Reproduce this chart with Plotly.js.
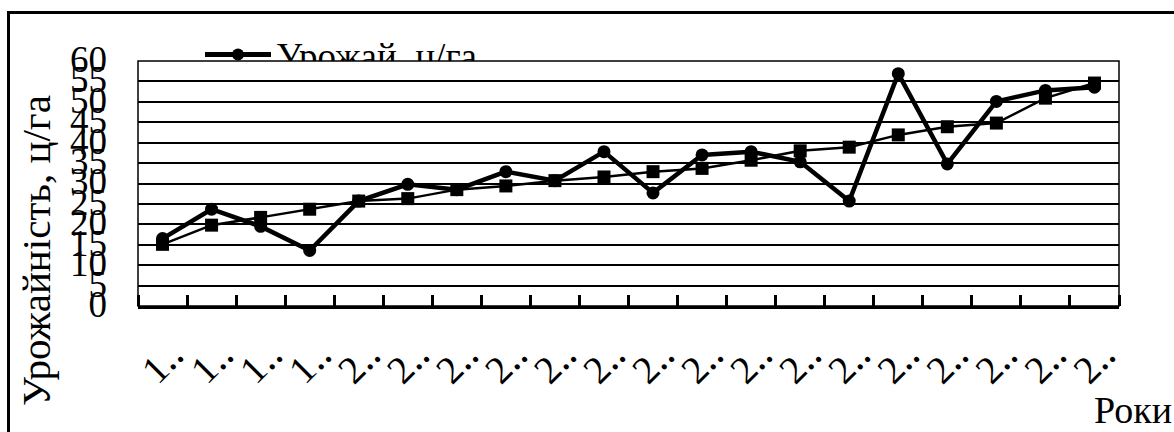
<!DOCTYPE html>
<html>
<head>
<meta charset="utf-8">
<script src="https://cdn.plot.ly/plotly-3.0.1.min.js"></script>
<style>
  html, body { margin: 0; padding: 0; background: #fff; overflow: hidden; }
  #chart { width: 1174px; height: 432px; }
</style>
</head>
<body>
<div id="chart"></div>
<script>
// Yield per year, c/ha (shown in the legend) and its smoothed companion series
const yearLabels = ['1‥','1‥','1‥','1‥','2‥','2‥','2‥','2‥','2‥','2‥',
                    '2‥','2‥','2‥','2‥','2‥','2‥','2‥','2‥','2‥','2‥'];
const yieldValues = [16.5, 23.7, 19.5, 13.6, 25.7, 29.8, 28.5, 32.9, 30.7, 37.8,
                     27.7, 37.0, 37.8, 35.3, 25.7, 56.9, 34.8, 50.1, 52.8, 53.6];
const smoothValues = [15.1, 19.8, 21.7, 23.7, 25.7, 26.3, 28.5, 29.4, 30.7, 31.6,
                      32.9, 33.7, 35.7, 38.0, 38.9, 41.9, 43.9, 44.8, 50.9, 54.6];
const yieldName = 'Урожай, ц/га';
const smoothName = 'Тренд';
const yTitle = 'Урожайність, ц/га';
const xTitle = 'Роки';

const positions = yearLabels.map((_, i) => i);
const FONT = 'Liberation Serif, Times New Roman, serif';

const traces = [
  {
    x: positions, y: smoothValues, name: smoothName, type: 'scatter',
    mode: 'lines+markers', showlegend: false,
    line: { color: '#000', width: 2.5 },
    marker: { symbol: 'square', size: 13, color: '#000' },
    cliponaxis: false
  },
  {
    x: positions, y: yieldValues, name: yieldName, type: 'scatter',
    mode: 'lines+markers',
    line: { color: '#000', width: 4.5 },
    marker: { symbol: 'circle', size: 13, color: '#000' },
    cliponaxis: false
  }
];

const W = 1174, H = 432;
const M = { l: 138, r: 55, t: 61, b: 126, pad: 0 };
const plotW = W - M.l - M.r, plotH = H - M.t - M.b;
const px = x => (x - M.l) / plotW;          // page px -> paper x
const py = y => (H - M.b - y) / plotH;      // page px -> paper y

const layout = {
  width: W, height: H, margin: M,
  paper_bgcolor: '#fff', plot_bgcolor: '#fff',
  font: { family: FONT, size: 36, color: '#000' },
  showlegend: true,
  legend: {
    x: px(200), y: py(24), xanchor: 'left', yanchor: 'top',
    bgcolor: 'rgba(0,0,0,0)', borderwidth: 0,
    font: { family: FONT, size: 37, color: '#000' },
    itemwidth: 66, itemsizing: 'constant', traceorder: 'normal'
  },
  xaxis: {
    range: [-0.5, yearLabels.length - 0.5],
    tickmode: 'array', tickvals: positions, ticktext: yearLabels,
    tickangle: -45, ticks: '', showgrid: false, zeroline: false,
    ticklabelshift: 10, ticklabelstandoff: 7,
    tickfont: { family: FONT, size: 39, color: '#000' },
    showline: true, linecolor: '#000', linewidth: 3,
    minor: { tick0: -0.5, dtick: 1, ticks: 'inside', ticklen: 11, tickwidth: 3, tickcolor: '#000', showgrid: false },
    automargin: false, fixedrange: true
  },
  yaxis: {
    range: [0, 60], dtick: 5, tick0: 0, ticks: '',
    showgrid: true, gridcolor: '#000', gridwidth: 2, zeroline: false,
    showline: false, ticklabelstandoff: 30, ticklabelshift: -2,
    tickfont: { family: FONT, size: 37, color: '#000' },
    automargin: false, fixedrange: true
  },
  shapes: [
    // plot area border
    { type: 'rect', xref: 'paper', yref: 'paper', x0: 0, x1: 1, y0: 0, y1: 1,
      line: { color: '#000', width: 1.5 }, layer: 'below' },
    // outer chart frame
    { type: 'rect', xref: 'paper', yref: 'paper',
      x0: px(8.5), x1: px(1300), y0: py(600), y1: py(12.5),
      line: { color: '#000', width: 3 }, layer: 'below' }
  ],
  annotations: [
    { text: yTitle, xref: 'paper', yref: 'paper', x: px(36), y: py(251),
      xanchor: 'center', yanchor: 'middle', textangle: -90, showarrow: false,
      font: { family: FONT, size: 41, color: '#000' } },
    { text: xTitle, xref: 'paper', yref: 'paper', x: px(1092), y: py(410),
      xanchor: 'left', yanchor: 'middle', showarrow: false,
      font: { family: FONT, size: 38, color: '#000' } }
  ]
};

const gd = document.getElementById('chart');
Plotly.newPlot(gd, traces, layout, { staticPlot: true, displayModeBar: false }).then(() => {
  // The legend sits partly behind the plot area: cut it off at the plot's top edge
  const leg = gd.querySelector('g.legend');
  if (!leg) return;
  const m = /translate\(\s*([-\d.]+)[ ,]+([-\d.]+)\s*\)/.exec(leg.getAttribute('transform') || '');
  const ty = m ? parseFloat(m[2]) : 0;
  const cut = M.t - ty;
  const ns = 'http://www.w3.org/2000/svg';
  const svg = gd.querySelector('svg.main-svg');
  let defs = svg.querySelector('defs');
  if (!defs) { defs = document.createElementNS(ns, 'defs'); svg.insertBefore(defs, svg.firstChild); }
  const cp = document.createElementNS(ns, 'clipPath');
  cp.setAttribute('id', 'legend-cut');
  const r = document.createElementNS(ns, 'rect');
  r.setAttribute('x', -2000); r.setAttribute('y', -2000);
  r.setAttribute('width', 5000); r.setAttribute('height', 2000 + cut);
  cp.appendChild(r); defs.appendChild(cp);
  leg.setAttribute('clip-path', 'url(#legend-cut)');
});
</script>
</body>
</html>
